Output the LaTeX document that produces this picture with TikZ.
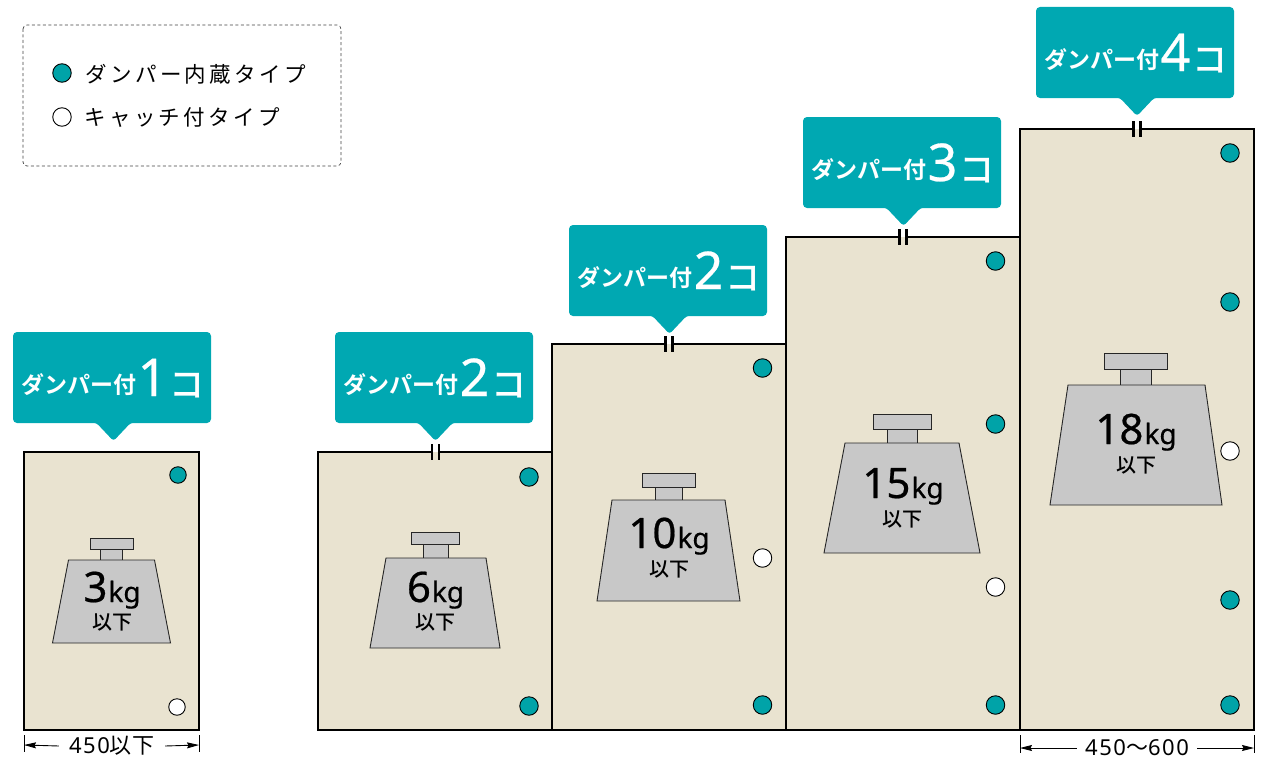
\documentclass[tikz,border=0pt]{standalone}
\usepackage{fontspec}
\usetikzlibrary{arrows.meta}
\setmainfont{Noto Sans}
\newfontfamily\jp{Noto Sans CJK JP}
\newfontfamily\jpm{Noto Sans CJK JP Medium}
\newfontfamily\jpb{Noto Sans CJK JP Bold}
\newfontfamily\jpls[LetterSpace=16]{Noto Sans CJK JP}
\newfontfamily\jpdim[LetterSpace=4]{Noto Sans CJK JP}
\newfontfamily\latdim[LetterSpace=7]{Noto Sans}
\newfontfamily\lat[FakeBold=0.5]{Noto Sans}
\definecolor{calloutc}{HTML}{00A8B2}
\definecolor{panelc}{HTML}{E9E3D0}
\definecolor{weightc}{HTML}{C8C8C8}
\definecolor{dotc}{HTML}{00A3A8}
\tikzset{
 panel/.style={draw=black,line width=1.8pt,fill=panelc},
 weight/.style={draw=black!85,line width=0.9pt,fill=weightc},
 dotT/.style={circle,draw=black,line width=0.9pt,fill=dotc,inner sep=0pt},
 dotW/.style={circle,draw=black,line width=0.9pt,fill=white,inner sep=0pt},
 lab/.style={inner sep=0pt,text=white,anchor=base},
 dim/.style={draw=black,line width=0.9pt,{Stealth[length=12pt,width=6pt,inset=1.5pt]}-},
 ext/.style={draw=black,line width=0.8pt},
 tick/.style={draw=black,line width=2.1pt},
 wnum/.style={inner sep=0pt,anchor=base,font=\lat\fontsize{42}{42}\selectfont},
 wund/.style={inner sep=0pt,font=\jpm\fontsize{20}{20}\selectfont},
}
\newcommand{\callout}[5]{% name, left x, top y, tip x, number
 \pgfmathsetmacro{\xr}{#2+198}\pgfmathsetmacro{\yb}{#3+91}\pgfmathsetmacro{\yt}{#3+109}
 \fill[calloutc,rounded corners=4pt] (#2,#3) rectangle (\xr,\yb);
 \fill[calloutc,rounded corners=3pt] (#4-24,\yb-1) -- (#4-17,\yb) -- (#4,\yt) -- (#4+17,\yb) -- (#4+24,\yb-1) -- cycle;
 \node[lab,anchor=base west,font=\jpb\fontsize{23}{23}\selectfont] (#1a) at (#2+8,#3+61) {ダンパー付};
 \node[lab,font=\lat\fontsize{52}{52}\selectfont] (#1b) at (#2+139.5,#3+64) {#5};
 \node[lab,font=\jpm\fontsize{35}{35}\selectfont] (#1c) at (#2+174,#3+65) {コ};
}
\newcommand{\kgs}[1]{#1\fontsize{28}{28}\selectfont\hspace{1pt}kg}
\begin{document}
\begin{tikzpicture}[x=1pt,y=-1pt]
\useasboundingbox (0,0) rectangle (1263,768);
% legend
\draw[draw=black!75,dash pattern=on 3pt off 2.5pt,line width=0.7pt,rounded corners=4pt] (23,25) rectangle (341,166);
\node[dotT,minimum size=18.5pt] (lg1) at (62,73) {};
\node[dotW,minimum size=18.5pt] (lg2) at (62,117) {};
\node[anchor=west,inner sep=0pt,font=\jpls\fontsize{21.5}{22}\selectfont] (lt1) at (85,74) {ダンパー内蔵タイプ};
\node[anchor=west,inner sep=0pt,font=\jpls\fontsize{21.5}{22}\selectfont] (lt2) at (84,118) {キャッチ付タイプ};
% panels
\draw[panel] (24,452) rectangle (199,730);
\draw[panel] (318,452) rectangle (552,730);
\draw[panel] (552,344) rectangle (786,730);
\draw[panel] (786,237) rectangle (1020,730);
\draw[panel] (1020,129) rectangle (1254,730);
% ticks
\foreach \x/\y in {435.5/452,669/344,903/237,1137/129}{
 \fill[white] (\x-3.5,\y-1) rectangle (\x+3.5,\y);
 \fill[panelc] (\x-3.5,\y) rectangle (\x+3.5,\y+1);
 \draw[tick] (\x-3.5,\y-8) -- (\x-3.5,\y+8);
 \draw[tick] (\x+3.5,\y-8) -- (\x+3.5,\y+8);
}
% callouts
\callout{ca}{13}{332}{113.5}{1}
\callout{cb}{335}{332}{435.5}{2}
\callout{cc}{569}{225}{669.5}{2}
\callout{cd}{803}{117}{903.5}{3}
\callout{ce}{1036}{7}{1137}{4}
% weights
\draw[weight] (90,538) rectangle (133,549); \draw[weight] (100,549) rectangle (122,560);
\draw[weight] (68.5,560) -- (154.5,560) -- (170.5,643) -- (52.5,643) -- cycle;
\draw[weight] (411,532) rectangle (459,544); \draw[weight] (423,544) rectangle (448,558);
\draw[weight] (386,558) -- (486,558) -- (500,648) -- (370,648) -- cycle;
\draw[weight] (642,473) rectangle (695,487); \draw[weight] (655,487) rectangle (682,500);
\draw[weight] (612,500) -- (725,500) -- (740,601) -- (597,601) -- cycle;
\draw[weight] (873,414) rectangle (931,429); \draw[weight] (887,429) rectangle (917,443);
\draw[weight] (845,443) -- (959,443) -- (980,553) -- (824,553) -- cycle;
\draw[weight] (1104,353) rectangle (1167,369); \draw[weight] (1120,369) rectangle (1151,385);
\draw[weight] (1068,385) -- (1205,385) -- (1222,505) -- (1050,505) -- cycle;
% weight labels
\node[wnum] (w1) at (112,602) {\kgs{3}};
\node[wund] (u1) at (112,622) {以下};
\node[wnum] (w2) at (435.5,602) {\kgs{6}};
\node[wund] (u2) at (435.5,622) {以下};
\node[wnum] (w3) at (669,548) {\kgs{10}};
\node[wund] (u3) at (669,569) {以下};
\node[wnum] (w4) at (903,498) {\kgs{15}};
\node[wund] (u4) at (902,519) {以下};
\node[wnum] (w5) at (1136,444) {\kgs{18}};
\node[wund] (u5) at (1136,465) {以下};
% dots
\node[dotT,minimum size=16.5pt] (d1) at (178,475) {};
\node[dotW,minimum size=16.5pt] (d2) at (177,707) {};
\foreach \n/\x/\y/\s in {d3/529/477/dotT,d4/529/706/dotT,d5/762.5/368/dotT,d6/762.5/558/dotW,d7/762.5/705/dotT,
 d8/995.5/261/dotT,d9/995.5/424/dotT,d10/995.5/587/dotW,d11/995.5/705/dotT,
 d12/1230/153/dotT,d13/1230/302/dotT,d14/1230/451/dotW,d15/1230/600/dotT,d16/1230/705/dotT}{
 \node[\s,minimum size=18.5pt] (\n) at (\x,\y) {};
}
% dimensions
\coordinate (a1) at (24,745); \coordinate (a2) at (199,745);
\node[inner sep=0pt,font=\jp\fontsize{22}{22}\selectfont] (t1) at (112,746) {\latdim 450\jpdim 以下};
\draw[ext] (24,735) -- (24,752); \draw[ext] (199,735) -- (199,752);
\draw[dim] (a1) -- ([xshift=-10pt]t1.west);
\draw[dim] (a2) -- ([xshift=10pt]t1.east);
\coordinate (b1) at (1020,748); \coordinate (b2) at (1254,748);
\node[inner sep=0pt,font=\jp\fontsize{22}{22}\selectfont] (t2) at (1137,748) {\latdim 450\jpdim 〜\latdim 600};
\draw[ext] (1020,735) -- (1020,753); \draw[ext] (1254,735) -- (1254,753);
\draw[dim] (b1) -- ([xshift=-8pt]t2.west);
\draw[dim] (b2) -- ([xshift=8pt]t2.east);
\end{tikzpicture}
\end{document}
